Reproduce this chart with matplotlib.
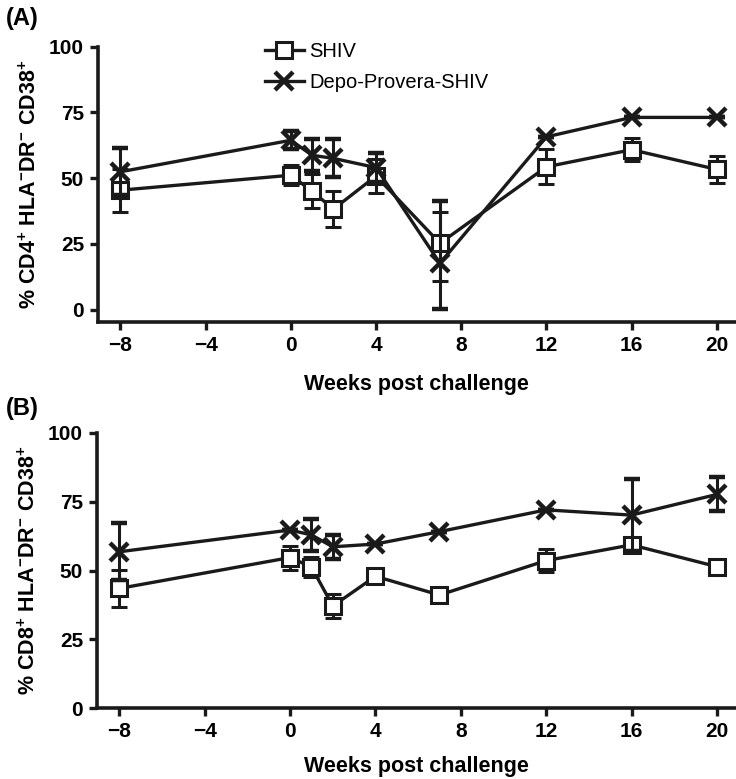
import matplotlib
matplotlib.use('Agg')
import matplotlib.pyplot as plt
from matplotlib.lines import Line2D

plt.rcParams['font.family'] = ['Liberation Sans', 'DejaVu Sans']
plt.rcParams['mathtext.fontset'] = 'custom'
plt.rcParams['mathtext.rm'] = 'Liberation Sans:bold'
plt.rcParams['mathtext.bf'] = 'Liberation Sans:bold'
plt.rcParams['mathtext.default'] = 'bf'

weeks = [-8, 0, 1, 2, 4, 7, 12, 16, 20]
xticks = [-8, -4, 0, 4, 8, 12, 16, 20]

# Panel A: CD4+ HLA-DR- CD38+
a_shiv = [45.4, 51.1, 45.0, 38.2, 50.8, 25.2, 54.3, 60.8, 53.3]
a_shiv_lo = [8.2, 3.8, 6.5, 6.7, 6.4, 14.2, 6.6, 4.2, 5.1]
a_shiv_hi = [8.2, 3.8, 6.5, 7.0, 6.4, 12.0, 6.6, 4.3, 5.2]
a_depo = [52.4, 64.4, 58.7, 57.5, 54.0, 17.6, 65.7, 73.1, 73.1]
a_depo_lo = [9.0, 3.4, 6.0, 7.0, 5.5, 17.5, 0, 0, 0]
a_depo_hi = [9.0, 3.6, 6.0, 7.2, 5.6, 23.8, 0, 0, 0]

# Panel B: CD8+ HLA-DR- CD38+
b_shiv = [43.5, 54.7, 51.3, 37.1, 47.9, 41.1, 53.6, 59.3, 51.4]
b_shiv_lo = [6.6, 4.5, 3.7, 4.4, 2.0, 1.0, 4.1, 2.0, 2.0]
b_shiv_hi = [6.6, 4.3, 3.7, 4.4, 2.0, 1.0, 4.1, 2.0, 2.0]
b_depo = [56.8, 64.7, 62.9, 58.6, 59.6, 64.1, 72.0, 70.1, 77.6]
b_depo_lo = [10.3, 0, 5.8, 4.3, 0, 0, 0, 13.1, 6.0]
b_depo_hi = [10.3, 0, 5.8, 4.3, 0, 0, 0, 13.1, 6.3]

INK = '#1a1a1a'
SHIV_STYLE = dict(color=INK, lw=2.4, marker='s', ms=11, mfc='white', mec=INK, mew=2.2)
DEPO_STYLE = dict(color=INK, lw=2.4, marker='x', ms=13, mew=3.2)


def draw_panel(ax, shiv, shiv_err, depo, depo_err, ylabel, ylo, labelpad, show_legend):
    ax.errorbar(weeks, shiv, yerr=shiv_err, capsize=6, capthick=2.2,
                elinewidth=2.2, zorder=3, **SHIV_STYLE)
    ax.errorbar(weeks, depo, yerr=depo_err, capsize=6, capthick=2.2,
                elinewidth=2.2, zorder=4, **DEPO_STYLE)
    ax.set_xlim(-9.05, 20.85)
    ax.set_ylim(ylo, 100)
    ax.set_xticks(xticks)
    ax.set_yticks([0, 25, 50, 75, 100])
    ax.spines['top'].set_visible(False)
    ax.spines['right'].set_visible(False)
    for s in ['left', 'bottom']:
        ax.spines[s].set_linewidth(2.6)
        ax.spines[s].set_color(INK)
    ax.tick_params(direction='out', length=6, width=2.4, color=INK,
                   labelsize=15, pad=4)
    for lab in ax.get_xticklabels() + ax.get_yticklabels():
        lab.set_fontweight('bold')
    ax.set_xlabel('Weeks post challenge', fontsize=15.5, fontweight='bold',
                  labelpad=labelpad)
    ax.set_ylabel(ylabel, fontsize=15.5, fontweight='bold', labelpad=6)
    if show_legend:
        handles = [Line2D([], [], **SHIV_STYLE), Line2D([], [], **DEPO_STYLE)]
        ax.legend(handles, ['SHIV', 'Depo-Provera-SHIV'], loc='upper left',
                  bbox_to_anchor=(0.25, 1.045), frameon=False, fontsize=14.5,
                  handlelength=1.9, handletextpad=0.3, labelspacing=0.6,
                  borderaxespad=0)


fig = plt.figure(figsize=(7.36, 7.79), dpi=100)
ax1 = fig.add_axes([98 / 736, 1 - 322 / 779, (735 - 98) / 736, (322 - 46.7) / 779])
ax2 = fig.add_axes([97 / 736, 1 - 708.3 / 779, (735 - 97) / 736, (708.3 - 432.7) / 779])

draw_panel(ax1, a_shiv, [a_shiv_lo, a_shiv_hi], a_depo, [a_depo_lo, a_depo_hi],
           r'% CD4$^{+}$ HLA$^{-}$DR$^{-}$ CD38$^{+}$', -4.75, 14, True)
draw_panel(ax2, b_shiv, [b_shiv_lo, b_shiv_hi], b_depo, [b_depo_lo, b_depo_hi],
           r'% CD8$^{+}$ HLA$^{-}$DR$^{-}$ CD38$^{+}$', 0, 10.5, False)

fig.text(6 / 736, 1 - 18 / 779, '(A)', fontsize=17, fontweight='bold', va='center')
fig.text(6 / 736, 1 - 409 / 779, '(B)', fontsize=17, fontweight='bold', va='center')

fig.savefig('out.png', dpi=100)
